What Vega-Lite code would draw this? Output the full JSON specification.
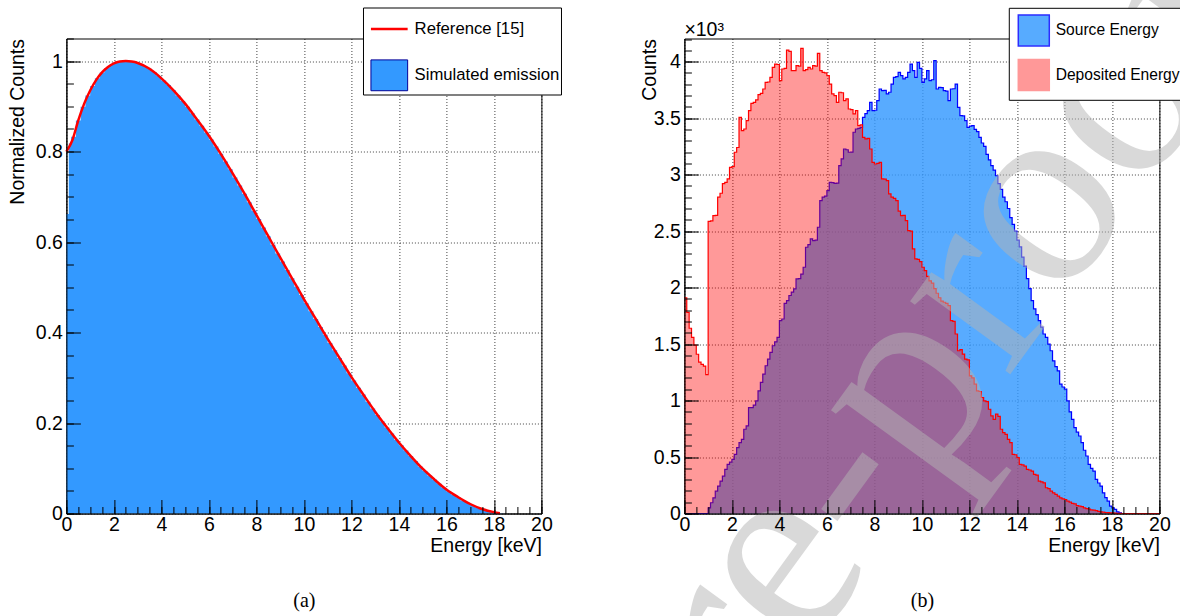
{
  "$schema": "https://vega.github.io/schema/vega-lite/v6.json",
  "background": "white",
  "padding": {"left": -19.6, "top": -113.5, "right": 0, "bottom": 0},
  "bounds": "flush",
  "spacing": 143,
  "config": {
    "font": "Liberation Sans",
    "view": {"stroke": "#000", "strokeWidth": 1},
    "axis": {"labelFont": "Liberation Sans", "labelFontSize": 19.5, "labelColor": "#000", "titleFont": "Liberation Sans", "titleFontSize": 19.5, "titleFontWeight": "normal", "titleColor": "#000", "domainColor": "#000", "domainWidth": 1, "tickColor": "#000", "tickWidth": 1, "gridColor": "#000", "gridDash": [1, 2], "gridWidth": 1, "gridOpacity": 0.75, "labelFlush": false, "labelOverlap": false},
    "legend": {"labelFont": "Liberation Sans", "labelColor": "#000"}
  },
  "datasets": {
    "histA": [
      {"e":0,"v":0.662},{"e":0.1,"v":0.818},{"e":0.2,"v":0.833},{"e":0.4,"v":0.869},{"e":0.6,"v":0.899},{"e":0.8,"v":0.924},{"e":1.0,"v":0.945},{"e":1.2,"v":0.962},{"e":1.4,"v":0.975},{"e":1.6,"v":0.985},{"e":1.8,"v":0.992},{"e":2.0,"v":0.997},{"e":2.2,"v":0.999},{"e":2.4,"v":1.0},{"e":2.6,"v":0.999},{"e":2.8,"v":0.997},{"e":3.0,"v":0.994},{"e":3.2,"v":0.989},{"e":3.4,"v":0.983},{"e":3.6,"v":0.976},{"e":3.8,"v":0.967},{"e":4.0,"v":0.957},{"e":4.2,"v":0.947},{"e":4.4,"v":0.936},{"e":4.6,"v":0.924},{"e":4.8,"v":0.912},{"e":5.0,"v":0.899},{"e":5.2,"v":0.885},{"e":5.4,"v":0.871},{"e":5.6,"v":0.857},{"e":5.8,"v":0.842},{"e":6.0,"v":0.827},{"e":6.2,"v":0.811},{"e":6.4,"v":0.795},{"e":6.6,"v":0.778},{"e":6.8,"v":0.761},{"e":7.0,"v":0.743},{"e":7.2,"v":0.725},{"e":7.4,"v":0.707},{"e":7.6,"v":0.688},{"e":7.8,"v":0.669},{"e":8.0,"v":0.651},{"e":8.2,"v":0.632},{"e":8.4,"v":0.613},{"e":8.6,"v":0.594},{"e":8.8,"v":0.575},{"e":9.0,"v":0.557},{"e":9.2,"v":0.538},{"e":9.4,"v":0.52},{"e":9.6,"v":0.501},{"e":9.8,"v":0.483},{"e":10.0,"v":0.465},{"e":10.2,"v":0.447},{"e":10.4,"v":0.43},{"e":10.6,"v":0.412},{"e":10.8,"v":0.395},{"e":11.0,"v":0.377},{"e":11.2,"v":0.361},{"e":11.4,"v":0.344},{"e":11.6,"v":0.327},{"e":11.8,"v":0.31},{"e":12.0,"v":0.294},{"e":12.2,"v":0.278},{"e":12.4,"v":0.263},{"e":12.6,"v":0.247},{"e":12.8,"v":0.232},{"e":13.0,"v":0.218},{"e":13.2,"v":0.204},{"e":13.4,"v":0.19},{"e":13.6,"v":0.177},{"e":13.8,"v":0.163},{"e":14.0,"v":0.151},{"e":14.2,"v":0.139},{"e":14.4,"v":0.127},{"e":14.6,"v":0.116},{"e":14.8,"v":0.104},{"e":15.0,"v":0.094},{"e":15.2,"v":0.084},{"e":15.4,"v":0.075},{"e":15.6,"v":0.066},{"e":15.8,"v":0.057},{"e":16.0,"v":0.049},{"e":16.2,"v":0.042},{"e":16.4,"v":0.036},{"e":16.6,"v":0.029},{"e":16.8,"v":0.024},{"e":17.0,"v":0.019},{"e":17.2,"v":0.014},{"e":17.4,"v":0.01},{"e":17.6,"v":0.007},{"e":17.8,"v":0.004},{"e":18.0,"v":0.002},{"e":18.2,"v":0.0005},{"e":18.4,"v":0}
    ],
    "refA": [
      {"e":0,"v":0.8},{"e":0.25,"v":0.825},{"e":0.5,"v":0.869},{"e":0.75,"v":0.906},{"e":1,"v":0.935},{"e":1.25,"v":0.958},{"e":1.5,"v":0.975},{"e":1.75,"v":0.987},{"e":2,"v":0.995},{"e":2.25,"v":0.999},{"e":2.5,"v":1.0},{"e":2.75,"v":0.999},{"e":3,"v":0.996},{"e":3.5,"v":0.983},{"e":4,"v":0.962},{"e":4.5,"v":0.936},{"e":5,"v":0.906},{"e":5.5,"v":0.871},{"e":6,"v":0.835},{"e":6.5,"v":0.795},{"e":7,"v":0.752},{"e":7.5,"v":0.707},{"e":8,"v":0.66},{"e":8.5,"v":0.613},{"e":9,"v":0.566},{"e":9.5,"v":0.52},{"e":10,"v":0.474},{"e":10.5,"v":0.43},{"e":11,"v":0.386},{"e":11.5,"v":0.344},{"e":12,"v":0.302},{"e":12.5,"v":0.263},{"e":13,"v":0.225},{"e":13.5,"v":0.19},{"e":14,"v":0.157},{"e":14.5,"v":0.127},{"e":15,"v":0.099},{"e":15.5,"v":0.075},{"e":16,"v":0.053},{"e":16.5,"v":0.036},{"e":17,"v":0.021},{"e":17.5,"v":0.01},{"e":18,"v":0.003},{"e":18.25,"v":0.0005}
    ],
    "b": [
      {"e":0,"s":0,"d":1910},{"e":0.1,"s":0,"d":1780},{"e":0.2,"s":0,"d":1640},{"e":0.3,"s":0,"d":1560},{"e":0.4,"s":0,"d":1490},{"e":0.5,"s":0,"d":1410},{"e":0.6,"s":0,"d":1340},{"e":0.7,"s":0,"d":1320},{"e":0.8,"s":0,"d":1305},{"e":0.9,"s":0,"d":1230},
      {"e":1,"s":50,"d":2587},{"e":1.1,"s":95,"d":2590},{"e":1.2,"s":139,"d":2637},{"e":1.3,"s":198,"d":2640},{"e":1.4,"s":243,"d":2800},{"e":1.5,"s":287,"d":2835},{"e":1.6,"s":331,"d":2920},{"e":1.7,"s":391,"d":2932},{"e":1.8,"s":435,"d":2962},{"e":1.9,"s":455,"d":3065},
      {"e":2,"s":479,"d":3070},{"e":2.1,"s":524,"d":3198},{"e":2.2,"s":583,"d":3240},{"e":2.3,"s":627,"d":3507},{"e":2.4,"s":657,"d":3390},{"e":2.5,"s":746,"d":3404},{"e":2.6,"s":775,"d":3478},{"e":2.7,"s":938,"d":3566},{"e":2.8,"s":938,"d":3630},{"e":2.9,"s":960,"d":3640},
      {"e":3,"s":997,"d":3661},{"e":3.1,"s":1086,"d":3708},{"e":3.2,"s":1160,"d":3720},{"e":3.3,"s":1234,"d":3758},{"e":3.4,"s":1308,"d":3817},{"e":3.5,"s":1367,"d":3820},{"e":3.6,"s":1426,"d":3861},{"e":3.7,"s":1485,"d":3950},{"e":3.8,"s":1520,"d":3979},{"e":3.9,"s":1559,"d":3975},
      {"e":4,"s":1707,"d":3832},{"e":4.1,"s":1722,"d":3935},{"e":4.2,"s":1860,"d":3940},{"e":4.3,"s":1885,"d":4103},{"e":4.4,"s":1930,"d":4091},{"e":4.5,"s":1960,"d":3920},{"e":4.6,"s":1988,"d":3920},{"e":4.7,"s":2077,"d":3965},{"e":4.8,"s":2080,"d":3960},{"e":4.9,"s":2120,"d":4118},
      {"e":5,"s":2180,"d":3920},{"e":5.1,"s":2357,"d":3930},{"e":5.2,"s":2380,"d":3950},{"e":5.3,"s":2431,"d":3935},{"e":5.4,"s":2416,"d":3965},{"e":5.5,"s":2420,"d":3960},{"e":5.6,"s":2534,"d":4074},{"e":5.7,"s":2770,"d":3920},{"e":5.8,"s":2800,"d":3906},{"e":5.9,"s":2810,"d":3900},
      {"e":6,"s":2858,"d":3876},{"e":6.1,"s":2932,"d":3802},{"e":6.2,"s":2930,"d":3714},{"e":6.3,"s":2923,"d":3700},{"e":6.4,"s":2925,"d":3640},{"e":6.5,"s":3080,"d":3729},{"e":6.6,"s":3139,"d":3725},{"e":6.7,"s":3227,"d":3655},{"e":6.8,"s":3220,"d":3670},{"e":6.9,"s":3198,"d":3581},
      {"e":7,"s":3200,"d":3575},{"e":7.1,"s":3375,"d":3537},{"e":7.2,"s":3404,"d":3566},{"e":7.3,"s":3410,"d":3434},{"e":7.4,"s":3419,"d":3440},{"e":7.5,"s":3507,"d":3330},{"e":7.6,"s":3540,"d":3316},{"e":7.7,"s":3566,"d":3320},{"e":7.8,"s":3640,"d":3227},{"e":7.9,"s":3566,"d":3109},
      {"e":8,"s":3570,"d":3094},{"e":8.1,"s":3655,"d":3100},{"e":8.2,"s":3758,"d":3109},{"e":8.3,"s":3743,"d":2962},{"e":8.4,"s":3745,"d":2960},{"e":8.5,"s":3714,"d":2947},{"e":8.6,"s":3729,"d":2829},{"e":8.7,"s":3802,"d":2800},{"e":8.8,"s":3861,"d":2790},{"e":8.9,"s":3867,"d":2770},
      {"e":9,"s":3906,"d":2676},{"e":9.1,"s":3876,"d":2637},{"e":9.2,"s":3847,"d":2640},{"e":9.3,"s":3861,"d":2593},{"e":9.4,"s":3906,"d":2504},{"e":9.5,"s":3979,"d":2500},{"e":9.6,"s":3920,"d":2342},{"e":9.7,"s":3861,"d":2254},{"e":9.8,"s":3994,"d":2250},{"e":9.9,"s":3940,"d":2230},
      {"e":10,"s":3817,"d":2180},{"e":10.1,"s":3847,"d":2150},{"e":10.2,"s":3920,"d":2100},{"e":10.3,"s":3832,"d":2060},{"e":10.4,"s":3840,"d":2040},{"e":10.5,"s":4009,"d":1990},{"e":10.6,"s":3758,"d":1950},{"e":10.7,"s":3773,"d":1910},{"e":10.8,"s":3770,"d":1880},{"e":10.9,"s":3743,"d":1870},
      {"e":11,"s":3740,"d":1860},{"e":11.1,"s":3655,"d":1840},{"e":11.2,"s":3758,"d":1707},{"e":11.3,"s":3760,"d":1700},{"e":11.4,"s":3802,"d":1589},{"e":11.5,"s":3596,"d":1441},{"e":11.6,"s":3522,"d":1450},{"e":11.7,"s":3520,"d":1411},{"e":11.8,"s":3478,"d":1367},{"e":11.9,"s":3419,"d":1360},
      {"e":12,"s":3430,"d":1219},{"e":12.1,"s":3434,"d":1200},{"e":12.2,"s":3400,"d":1145},{"e":12.3,"s":3380,"d":1086},{"e":12.4,"s":3330,"d":1080},{"e":12.5,"s":3280,"d":1027},{"e":12.6,"s":3250,"d":997},{"e":12.7,"s":3180,"d":990},{"e":12.8,"s":3130,"d":923},{"e":12.9,"s":3080,"d":864},
      {"e":13,"s":3040,"d":834},{"e":13.1,"s":2990,"d":879},{"e":13.2,"s":2920,"d":860},{"e":13.3,"s":2870,"d":746},{"e":13.4,"s":2800,"d":716},{"e":13.5,"s":2760,"d":700},{"e":13.6,"s":2700,"d":657},{"e":13.7,"s":2620,"d":627},{"e":13.8,"s":2560,"d":524},{"e":13.9,"s":2500,"d":520},
      {"e":14,"s":2420,"d":494},{"e":14.1,"s":2360,"d":435},{"e":14.2,"s":2270,"d":430},{"e":14.3,"s":2190,"d":420},{"e":14.4,"s":2080,"d":391},{"e":14.5,"s":1990,"d":385},{"e":14.6,"s":1885,"d":376},{"e":14.7,"s":1811,"d":346},{"e":14.8,"s":1760,"d":340},{"e":14.9,"s":1707,"d":287},
      {"e":15,"s":1650,"d":280},{"e":15.1,"s":1589,"d":272},{"e":15.2,"s":1559,"d":228},{"e":15.3,"s":1500,"d":220},{"e":15.4,"s":1441,"d":198},{"e":15.5,"s":1352,"d":183},{"e":15.6,"s":1300,"d":170},{"e":15.7,"s":1263,"d":154},{"e":15.8,"s":1145,"d":139},{"e":15.9,"s":1120,"d":130},
      {"e":16,"s":1101,"d":124},{"e":16.1,"s":997,"d":109},{"e":16.2,"s":900,"d":100},{"e":16.3,"s":834,"d":89},{"e":16.4,"s":760,"d":85},{"e":16.5,"s":720,"d":70},{"e":16.6,"s":686,"d":65},{"e":16.7,"s":627,"d":60},{"e":16.8,"s":560,"d":50},{"e":16.9,"s":509,"d":44},
      {"e":17,"s":435,"d":40},{"e":17.1,"s":400,"d":32},{"e":17.2,"s":376,"d":30},{"e":17.3,"s":302,"d":25},{"e":17.4,"s":270,"d":18},{"e":17.5,"s":243,"d":15},{"e":17.6,"s":183,"d":12},{"e":17.7,"s":140,"d":9},{"e":17.8,"s":109,"d":8},{"e":17.9,"s":65,"d":6},
      {"e":18,"s":50,"d":5},{"e":18.1,"s":36,"d":3},{"e":18.2,"s":15,"d":2},{"e":18.3,"s":5,"d":1},{"e":18.4,"s":0,"d":0},{"e":20,"s":0,"d":0}
    ]
  },
  "resolve": {"scale": {"x": "independent", "y": "independent", "color": "independent", "fill": "independent", "stroke": "independent", "opacity": "independent", "shape": "independent", "strokeWidth": "independent"}, "legend": {"fill": "independent", "stroke": "independent", "opacity": "independent", "shape": "independent", "strokeWidth": "independent"}},
  "hconcat": [
    {
      "width": 475,
      "height": 475,
      "resolve": {"axis": {"x": "independent", "y": "independent"}},
      "layer": [
        {
          "data": {"name": "histA"},
          "mark": {"type": "area", "interpolate": "step-after", "opacity": 1},
          "encoding": {
            "x": {"field": "e", "type": "quantitative", "scale": {"domain": [0, 20], "nice": false, "zero": false},
                  "axis": {"orient": "bottom", "values": [0,2,4,6,8,10,12,14,16,18,20], "grid": true, "ticks": false, "labels": false, "domain": false, "title": "(a)", "titleFont": "Liberation Serif", "titleFontSize": 20, "titleAnchor": "middle", "titleBaseline": "alphabetic", "titlePadding": 93, "zindex": 0}},
            "y": {"field": "v", "type": "quantitative", "scale": {"domain": [0, 1.05], "nice": false},
                  "axis": {"orient": "left", "values": [0,0.2,0.4,0.6,0.8,1], "grid": true, "ticks": false, "labels": false, "domain": false, "title": null, "zindex": 0}},
            "fill": {"datum": "sim", "scale": {"domain": ["ref", "sim"], "range": ["#ff0000", "#3399ff"]},
              "legend": {"title": null, "orient": "none", "legendX": 296.6, "legendY": -31, "padding": 1.6, "symbolOffset": 4.7, "rowPadding": 18.2, "labelOffset": 5.3, "labelFontSize": 16.7, "symbolSize": 1347, "symbolOpacity": 1, "fillColor": "#fff", "strokeColor": "#000", "labelLimit": 400, "zindex": 0,
                "labelExpr": "datum.value == 'ref' ? 'Reference [15]' : 'Simulated emission'"}
            }
          }
        },
        {
          "data": {"name": "refA"},
          "mark": {"type": "line", "interpolate": "monotone"},
          "encoding": {
            "x": {"field": "e", "type": "quantitative", "axis": null},
            "y": {"field": "v", "type": "quantitative", "axis": null},
            "stroke": {"datum": "ref", "scale": {"domain": ["ref", "sim"], "range": ["#ff0000", "#000099"]}},
            "strokeWidth": {"datum": "ref", "scale": {"domain": ["ref", "sim"], "range": [2.5, 1]}}
          }
        },
        {
          "data": {"values": [{}]},
          "mark": {"type": "point", "opacity": 0},
          "encoding": {
            "x": {"datum": 10, "axis": null},
            "y": {"datum": 0.5, "axis": null},
            "shape": {"datum": "ref", "scale": {"domain": ["ref", "sim"], "range": ["M-1,0L1,0", "M-1,-0.84L1,-0.84L1,0.84L-1,0.84Z"]}}
          }
        },
        {
          "data": {"name": "refA"},
          "mark": {"type": "point", "opacity": 0},
          "encoding": {
            "x": {"field": "e", "type": "quantitative",
                  "axis": {"orient": "bottom", "values": [0,2,4,6,8,10,12,14,16,18,20], "format": "~g", "grid": false, "title": "Energy [keV]", "titleAnchor": "end", "titlePadding": 2, "labelPadding": 16, "tickSize": -14, "zindex": 1}},
            "y": {"field": "v", "type": "quantitative",
                  "axis": {"orient": "left", "values": [0,0.2,0.4,0.6,0.8,1], "format": "~g", "grid": false, "title": "Normalized Counts", "titleAnchor": "end", "titleBaseline": "alphabetic", "titlePadding": 12, "labelPadding": 18, "tickSize": -14, "zindex": 1}}
          }
        },
        {
          "data": {"name": "refA"},
          "mark": {"type": "point", "opacity": 0},
          "encoding": {
            "x": {"field": "e", "type": "quantitative",
                  "axis": {"orient": "bottom", "values": [0,0.5,1,1.5,2,2.5,3,3.5,4,4.5,5,5.5,6,6.5,7,7.5,8,8.5,9,9.5,10,10.5,11,11.5,12,12.5,13,13.5,14,14.5,15,15.5,16,16.5,17,17.5,18,18.5,19,19.5,20], "grid": false, "labels": false, "domain": false, "title": null, "tickSize": -7, "zindex": 1}},
            "y": {"field": "v", "type": "quantitative",
                  "axis": {"orient": "left", "values": [0,0.05,0.1,0.15,0.2,0.25,0.3,0.35,0.4,0.45,0.5,0.55,0.6,0.65,0.7,0.75,0.8,0.85,0.9,0.95,1,1.05], "grid": false, "labels": false, "domain": false, "title": null, "tickSize": -7, "zindex": 1}}
          }
        }
      ]
    },
    {
      "width": 475,
      "height": 475,
      "resolve": {"axis": {"x": "independent", "y": "independent"}},
      "layer": [
        {
          "data": {"name": "b"},
          "mark": {"type": "area", "interpolate": "step-after"},
          "encoding": {
            "x": {"field": "e", "type": "quantitative", "scale": {"domain": [0, 20], "nice": false, "zero": false},
                  "axis": {"orient": "bottom", "values": [0,2,4,6,8,10,12,14,16,18,20], "grid": true, "ticks": false, "labels": false, "domain": false, "title": "(b)", "titleFont": "Liberation Serif", "titleFontSize": 20, "titleAnchor": "middle", "titleBaseline": "alphabetic", "titlePadding": 93, "zindex": 0}},
            "y": {"field": "s", "type": "quantitative", "scale": {"domain": [0, 4205], "nice": false},
                  "axis": {"orient": "left", "values": [0,500,1000,1500,2000,2500,3000,3500,4000], "grid": true, "ticks": false, "labels": false, "domain": false, "title": null, "zindex": 0}},
            "fill": {"datum": "Source Energy", "scale": {"domain": ["Source Energy", "Deposited Energy"], "range": ["#3399ff", "#ff0000"]},
              "legend": {"title": null, "orient": "none", "legendX": 324.4, "legendY": -30.7, "padding": 6.1, "symbolOffset": 2.4, "rowPadding": 7.5, "labelOffset": 5.4, "labelFontSize": 15.6, "symbolSize": 961, "symbolType": "square", "symbolStrokeWidth": 1.5, "fillColor": "#fff", "strokeColor": "#000", "labelLimit": 400, "zindex": 0}
            },
            "opacity": {"datum": "Source Energy", "scale": {"domain": ["Source Energy", "Deposited Energy"], "range": [0.82, 0.4]}}
          }
        },
        {
          "data": {"name": "b"},
          "mark": {"type": "line", "interpolate": "step-after", "strokeWidth": 1.2},
          "encoding": {
            "x": {"field": "e", "type": "quantitative", "axis": null},
            "y": {"field": "s", "type": "quantitative", "axis": null},
            "stroke": {"datum": "Source Energy", "scale": {"domain": ["Source Energy", "Deposited Energy"], "range": ["#0000ff", "#ff0000"]}}
          }
        },
        {
          "data": {"name": "b"},
          "mark": {"type": "area", "interpolate": "step-after"},
          "encoding": {
            "x": {"field": "e", "type": "quantitative", "axis": null},
            "y": {"field": "d", "type": "quantitative", "axis": null},
            "fill": {"datum": "Deposited Energy"},
            "opacity": {"datum": "Deposited Energy"}
          }
        },
        {
          "data": {"name": "b"},
          "mark": {"type": "line", "interpolate": "step-after", "strokeWidth": 1.2},
          "encoding": {
            "x": {"field": "e", "type": "quantitative", "axis": null},
            "y": {"field": "d", "type": "quantitative", "axis": null},
            "stroke": {"datum": "Deposited Energy"}
          }
        },
        {
          "data": {"name": "b"},
          "mark": {"type": "point", "opacity": 0},
          "encoding": {
            "x": {"field": "e", "type": "quantitative",
                  "axis": {"orient": "bottom", "values": [0,2,4,6,8,10,12,14,16,18,20], "format": "~g", "grid": false, "title": "Energy [keV]", "titleAnchor": "end", "titlePadding": 2, "labelPadding": 16, "tickSize": -14, "zindex": 1}},
            "y": {"field": "s", "type": "quantitative",
                  "axis": {"orient": "left", "values": [0,500,1000,1500,2000,2500,3000,3500,4000], "labelExpr": "format(datum.value / 1000, '~g')", "grid": false, "title": "Counts", "titleAnchor": "end", "titleBaseline": "alphabetic", "titlePadding": -2, "labelPadding": 18, "tickSize": -14, "zindex": 1}}
          }
        },
        {
          "data": {"name": "b"},
          "mark": {"type": "point", "opacity": 0},
          "encoding": {
            "x": {"field": "e", "type": "quantitative",
                  "axis": {"orient": "bottom", "values": [0,0.5,1,1.5,2,2.5,3,3.5,4,4.5,5,5.5,6,6.5,7,7.5,8,8.5,9,9.5,10,10.5,11,11.5,12,12.5,13,13.5,14,14.5,15,15.5,16,16.5,17,17.5,18,18.5,19,19.5,20], "grid": false, "labels": false, "domain": false, "title": null, "tickSize": -7, "zindex": 1}},
            "y": {"field": "s", "type": "quantitative",
                  "axis": {"orient": "left", "values": [0,100,200,300,400,500,600,700,800,900,1000,1100,1200,1300,1400,1500,1600,1700,1800,1900,2000,2100,2200,2300,2400,2500,2600,2700,2800,2900,3000,3100,3200,3300,3400,3500,3600,3700,3800,3900,4000,4100,4200], "grid": false, "labels": false, "domain": false, "title": null, "tickSize": -7, "zindex": 1}}
          }
        },
        {
          "data": {"values": [{}]},
          "mark": {"type": "text", "align": "left", "baseline": "alphabetic", "dy": -3, "fontSize": 19.5, "font": "Liberation Sans", "color": "#000"},
          "encoding": {
            "x": {"datum": 0, "axis": null},
            "y": {"datum": 4205, "axis": null},
            "text": {"value": "×10³"}
          }
        },
        {
          "data": {"values": [{}]},
          "mark": {"type": "text", "align": "right", "baseline": "alphabetic", "angle": -54, "fontSize": 270, "font": "Liberation Serif", "color": "#b4b4b4", "opacity": 0.5},
          "encoding": {
            "x": {"datum": 24.72, "axis": null},
            "y": {"datum": 4416, "axis": null},
            "text": {"value": "Journal Pre-proof"}
          }
        }
      ]
    }
  ]
}
